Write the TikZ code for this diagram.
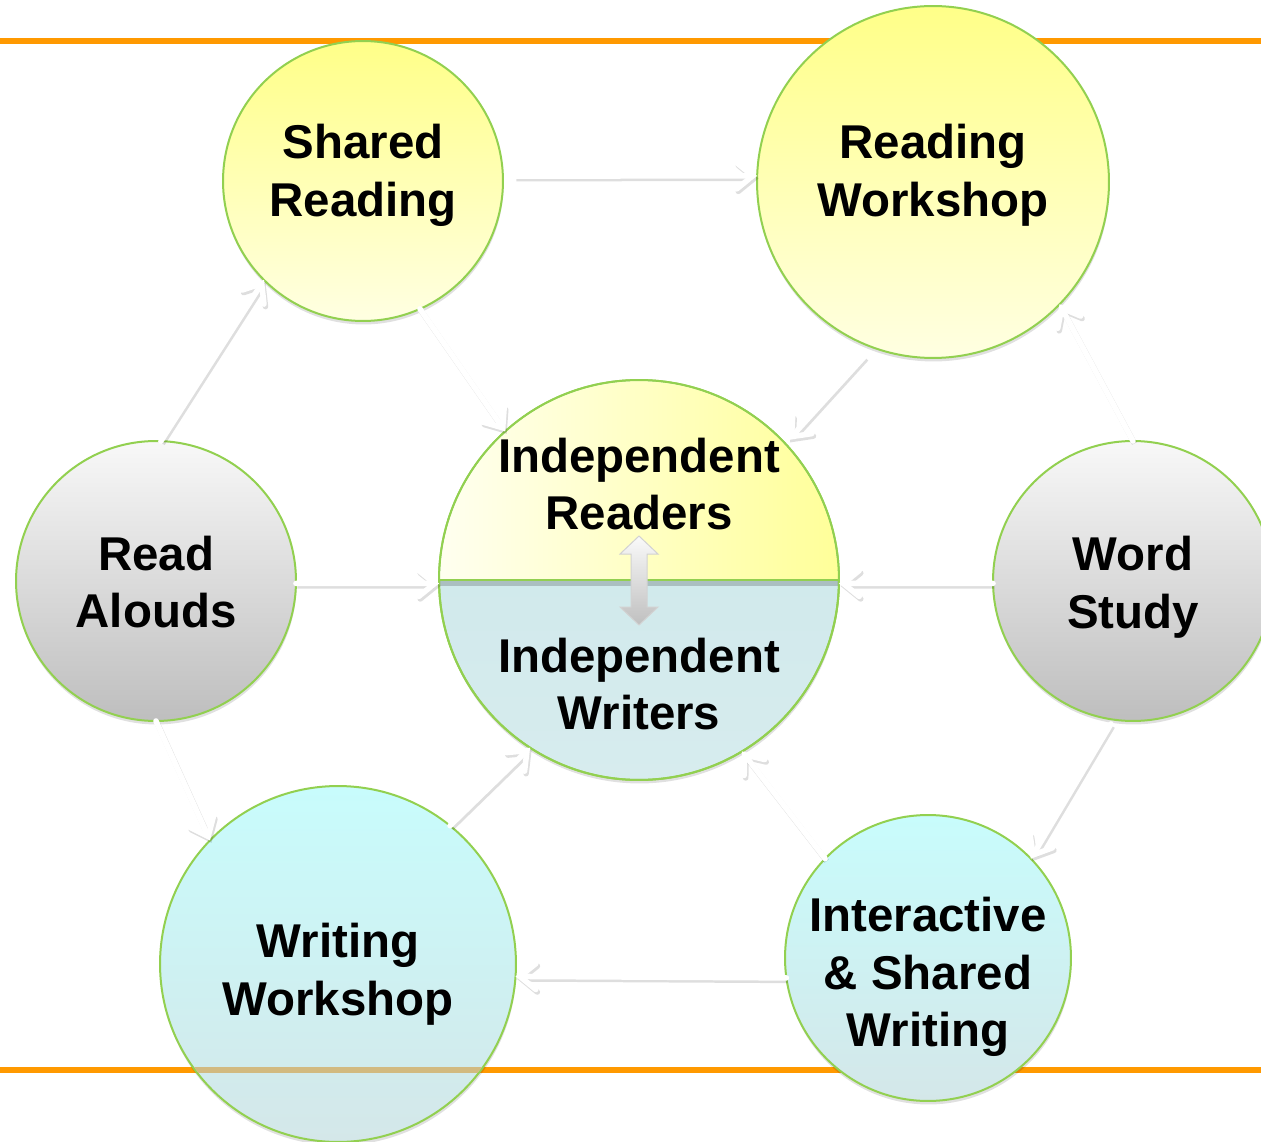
\documentclass[tikz,border=0pt]{standalone}
\usepackage{fontspec}
\setmainfont{Liberation Sans}
\usetikzlibrary{arrows.meta,shadows}
\definecolor{orng}{HTML}{FF9900}
\definecolor{tanline}{HTML}{D2BA80}
\definecolor{grn}{HTML}{92D050}
\definecolor{yelA}{HTML}{FFFF88}
\definecolor{yelB}{HTML}{FFFFE2}
\definecolor{gryA}{HTML}{F8F8F8}
\definecolor{gryB}{HTML}{BEBEBE}
\definecolor{bluA}{HTML}{C8FCFC}
\definecolor{bluB}{HTML}{D4E7E9}
\definecolor{cenA}{HTML}{CBE7EA}
\definecolor{cenB}{HTML}{D7ECEE}
\definecolor{cenL}{HTML}{FFFFF0}
\definecolor{cenR}{HTML}{FFFF99}
\tikzset{
  bub/.style={circle, draw=grn, line width=0.04cm, inner sep=0pt, outer sep=0pt,
    drop shadow={shadow xshift=0.01cm, shadow yshift=-0.07cm, opacity=0.12, fill=black}},
  yelbub/.style={bub, top color=yelA, bottom color=yelB},
  grybub/.style={bub, top color=gryA, bottom color=gryB},
  blubub/.style={bub, top color=bluA, bottom color=bluB},
  lbl/.style={font=\bfseries\fontsize{27}{32.9}\selectfont, align=center, inner sep=0pt},
  flow/.style={draw=white, line width=0.11cm, line cap=round,
    -{Straight Barb[length=0.32cm,width=0.52cm,line cap=round]},
    preaction={draw=black, draw opacity=0.13, line width=0.11cm,
      transform canvas={xshift=0.03cm,yshift=-0.05cm}}},
  orline/.style={draw=orng, line width=0.12cm}
}
\begin{document}
\begin{tikzpicture}[x=0.02cm,y=-0.02cm]
\useasboundingbox[fill=white] (0,0) rectangle (1261,1142);
% orange rules
\coordinate (tl) at (0,41);
\coordinate (tr) at (1261,41);
\coordinate (bl) at (0,1070);
\coordinate (br) at (1261,1070);
\draw[orline] (tl) -- (tr);
\draw[orline] (bl) -- (br);
% outer circles
\node[yelbub, minimum size=5.6cm] (sr) at (363,181) {};
\node[yelbub, minimum size=7.04cm] (rw) at (933,182) {};
\node[grybub, minimum size=5.6cm] (ra) at (156,581) {};
\node[grybub, minimum size=5.6cm] (ws) at (1133,581) {};
\node[blubub, minimum size=7.12cm] (ww) at (338,964) {};
\node[blubub, minimum size=5.72cm] (iw) at (928,958) {};
% line seen through writing workshop
\begin{scope}
  \clip (ww.center) circle[radius=3.54cm];
  \draw[draw=tanline, line width=0.12cm] (bl) -- (br);
\end{scope}
% centre circle
\node[bub, minimum size=8cm, top color=cenA, bottom color=cenB] (c) at (639,580) {};
\begin{scope}
  \clip (c.center) circle[radius=3.98cm];
  \shade[left color=cenL, right color=cenR] (c.west |- c.north) rectangle (c.east);
  \draw[black, opacity=0.18, line width=0.09cm] ([yshift=-0.07cm]c.west) -- ([yshift=-0.07cm]c.east);
  \draw[grn, line width=0.04cm] (c.west) -- (c.east);
\end{scope}
\draw[grn, line width=0.04cm] (c.center) circle[radius=4cm];
% connectors
\draw[flow, shorten <=0.24cm] (sr.2) -- (rw.178);
\draw[flow] (ra.88) -- (sr.225);
\draw[flow] (sr.-66) -- (c.132);
\draw[flow, shorten <=0.24cm, shorten >=0.1cm] (rw.250) -- (c.43);
\draw[flow] (ws.90) -- (rw.-44);
\draw[flow] (ra.-1) -- (c.181);
\draw[flow] (ws.181) -- (c.-1);
\draw[flow] (ra.-90) -- (ww.136);
\draw[flow] (ww.51) -- (c.237);
\draw[flow] (iw.136) -- (c.-59);
\draw[flow, shorten <=0.1cm] (ws.-98) -- (iw.44);
\draw[flow] (iw.188) -- (ww.-4);
% labels
\node[lbl] (tsr) at (363,175) {Shared\\Reading};
\node[lbl] (trw) at (933,175) {Reading\\Workshop};
\node[lbl] (tra) at (156,582) {Read\\Alouds};
\node[lbl] (tws) at (1133,587) {Word\\Study};
\node[lbl] (tcr) at (639,484) {Independent\\Readers};
\node[lbl] (tcw) at (639,684) {Independent\\Writers};
\node[lbl] (tww) at (338,974) {Writing\\Workshop};
\node[lbl] (tiw) at (928,977) {Interactive\\\& Shared\\Writing};
% double arrow in centre
\shade[top color=gray!4, bottom color=gray!50, draw=gray!35, line width=0.02cm]
  (639,536) -- (658,554) -- (647,554) -- (647,607) -- (658,607) -- (639,625)
  -- (620,607) -- (631,607) -- (631,554) -- (620,554) -- cycle;
\end{tikzpicture}
\end{document}
